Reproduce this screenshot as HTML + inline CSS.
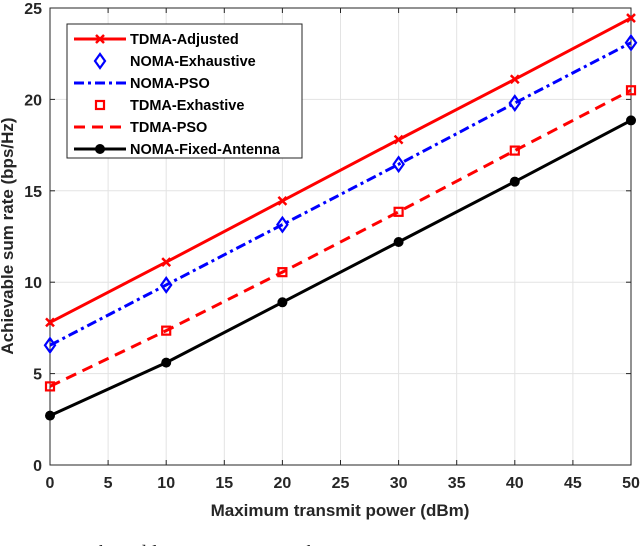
<!DOCTYPE html>
<html><head><meta charset="utf-8"><style>
body{margin:0;background:#fff;width:640px;height:546px;overflow:hidden;font-family:"Liberation Sans",sans-serif}
svg text{font-family:"Liberation Sans",sans-serif}
</style></head><body>
<svg id="chart" width="640" height="546" xmlns="http://www.w3.org/2000/svg">
<g id="grid"></g>
<g id="axes"></g>
<g id="series"></g>
<g id="legend"></g>
<text x="340" y="516" text-anchor="middle" font-size="17" font-weight="bold" fill="#262626">Maximum transmit power (dBm)</text>
<text transform="translate(13,236) rotate(-90)" text-anchor="middle" font-size="17" font-weight="bold" fill="#262626">Achievable sum rate (bps/Hz)</text>
<text x="20" y="559" font-size="20" fill="#222" style="font-family:'Liberation Serif',serif">Fig. 4. Achievable sum rate versus the maximum transmit</text>
</svg>
<script>
const xValues=[0,10,20,30,40,50];
const tdmaAdjusted=[7.8,11.1,14.45,17.8,21.1,24.45];
const nomaExhaustive=[6.55,9.85,13.15,16.45,19.8,23.1];
const nomaPSO=[6.55,9.85,13.15,16.45,19.8,23.1];
const tdmaExhaustive=[4.3,7.35,10.55,13.85,17.2,20.5];
const tdmaPSO=[4.3,7.35,10.55,13.85,17.2,20.5];
const nomaFixed=[2.7,5.6,8.9,12.2,15.5,18.85];
const xTicks=[0,5,10,15,20,25,30,35,40,45,50];
const yTicks=[0,5,10,15,20,25];
const legendLabels=["TDMA-Adjusted","NOMA-Exhaustive","NOMA-PSO","TDMA-Exhastive","TDMA-PSO","NOMA-Fixed-Antenna"];

const L=50,R=631,T=8,B=465;
const sx=v=>L+(v-0)/50*(R-L);
const sy=v=>B-(v/25)*(B-T);
const NS="http://www.w3.org/2000/svg";
function mk(tag,attrs,parent){const e=document.createElementNS(NS,tag);for(const k in attrs)e.setAttribute(k,attrs[k]);parent.appendChild(e);return e;}
const grid=document.getElementById('grid'),axes=document.getElementById('axes'),series=document.getElementById('series'),legend=document.getElementById('legend');

xTicks.forEach(t=>{
 const g=mk('line',{x1:sx(t),x2:sx(t),y1:T,y2:B,stroke:'#e3e3e3','stroke-width':1},grid);
 
 
 [B,T].forEach(y0=>{const tk=mk('line',{x1:sx(t),x2:sx(t),y1:y0,y2:y0===B?B-5:T+5,stroke:'#262626'},axes);
 
 });
 const lb=mk('text',{x:sx(t),y:B+23,'text-anchor':'middle','font-size':16,'font-weight':'bold',fill:'#262626'},axes);
 lb.textContent=t;
 
 
});
yTicks.forEach(t=>{
 const g=mk('line',{x1:L,x2:R,y1:sy(t),y2:sy(t),stroke:'#e3e3e3','stroke-width':1},grid);
 
 
 [L,R].forEach(x0=>{const tk=mk('line',{x1:x0,x2:x0===L?L+5:R-5,y1:sy(t),y2:sy(t),stroke:'#262626'},axes);
 
 });
 const lb=mk('text',{x:L-8,y:sy(t)+6,'text-anchor':'end','font-size':16,'font-weight':'bold',fill:'#262626'},axes);
 lb.textContent=t;
 
 
});
const frame=mk('rect',{x:L,y:T,width:R-L,height:B-T,fill:'none',stroke:'#262626','stroke-width':1},axes);



function marker(type,x,y,color,parent){
 let e;
 if(type==='x'){e=mk('path',{d:`M${x-4},${y-4}L${x+4},${y+4}M${x-4},${y+4}L${x+4},${y-4}`,stroke:color,'stroke-width':2.5,fill:'none'},parent);}
 else if(type==='diamond'){e=mk('path',{d:`M${x},${y-7}L${x+5},${y}L${x},${y+7}L${x-5},${y}Z`,stroke:color,'stroke-width':2.2,fill:'none'},parent);}
 else if(type==='square'){e=mk('rect',{x:x-4,y:y-4,width:8,height:8,stroke:color,'stroke-width':2.2,fill:'none'},parent);}
 else if(type==='dot'){e=mk('circle',{cx:x,cy:y,r:5,fill:color},parent);}
 return e;
}
const defs=[
 {vals:tdmaAdjusted,color:'#ff0000',dash:null,line:true,m:'x',name:'tdma-adjusted'},
 {vals:nomaExhaustive,color:'#0000ff',dash:null,line:false,m:'diamond',name:'noma-exhaustive'},
 {vals:nomaPSO,color:'#0000ff',dash:'10 4 3 4',line:true,m:null,name:'noma-pso'},
 {vals:tdmaExhaustive,color:'#ff0000',dash:null,line:false,m:'square',name:'tdma-exhaustive'},
 {vals:tdmaPSO,color:'#ff0000',dash:'11 7',line:true,m:null,name:'tdma-pso'},
 {vals:nomaFixed,color:'#000000',dash:null,line:true,m:'dot',name:'noma-fixed-antenna'}
];
defs.forEach(d=>{
 if(d.line){
  const p=mk('polyline',{points:d.vals.map((v,i)=>sx(xValues[i])+','+sy(v)).join(' '),fill:'none',stroke:d.color,'stroke-width':3},series);
  if(d.dash)p.setAttribute('stroke-dasharray',d.dash);
  
  
 }
 if(d.m){d.vals.forEach((v,i)=>{const e=marker(d.m,sx(xValues[i]),sy(v),d.color,series);
  
  });}
});
const box=mk('rect',{x:67,y:24,width:235,height:134,fill:'#fff',stroke:'#262626','stroke-width':1},legend);


defs.forEach((d,i)=>{
 const y=39+i*22;
 if(d.line){const l=mk('line',{x1:74,x2:126,y1:y,y2:y,stroke:d.color,'stroke-width':3},legend);
  if(d.dash)l.setAttribute('stroke-dasharray',d.dash);
  
  }
 if(d.m){const e=marker(d.m,100,y,d.color,legend);
  
  }
 const t=mk('text',{x:130,y:y+5,'font-size':14.5,'font-weight':'bold',fill:'#000'},legend);
 t.textContent=legendLabels[i];
 
 
});
</script>
</body></html>
